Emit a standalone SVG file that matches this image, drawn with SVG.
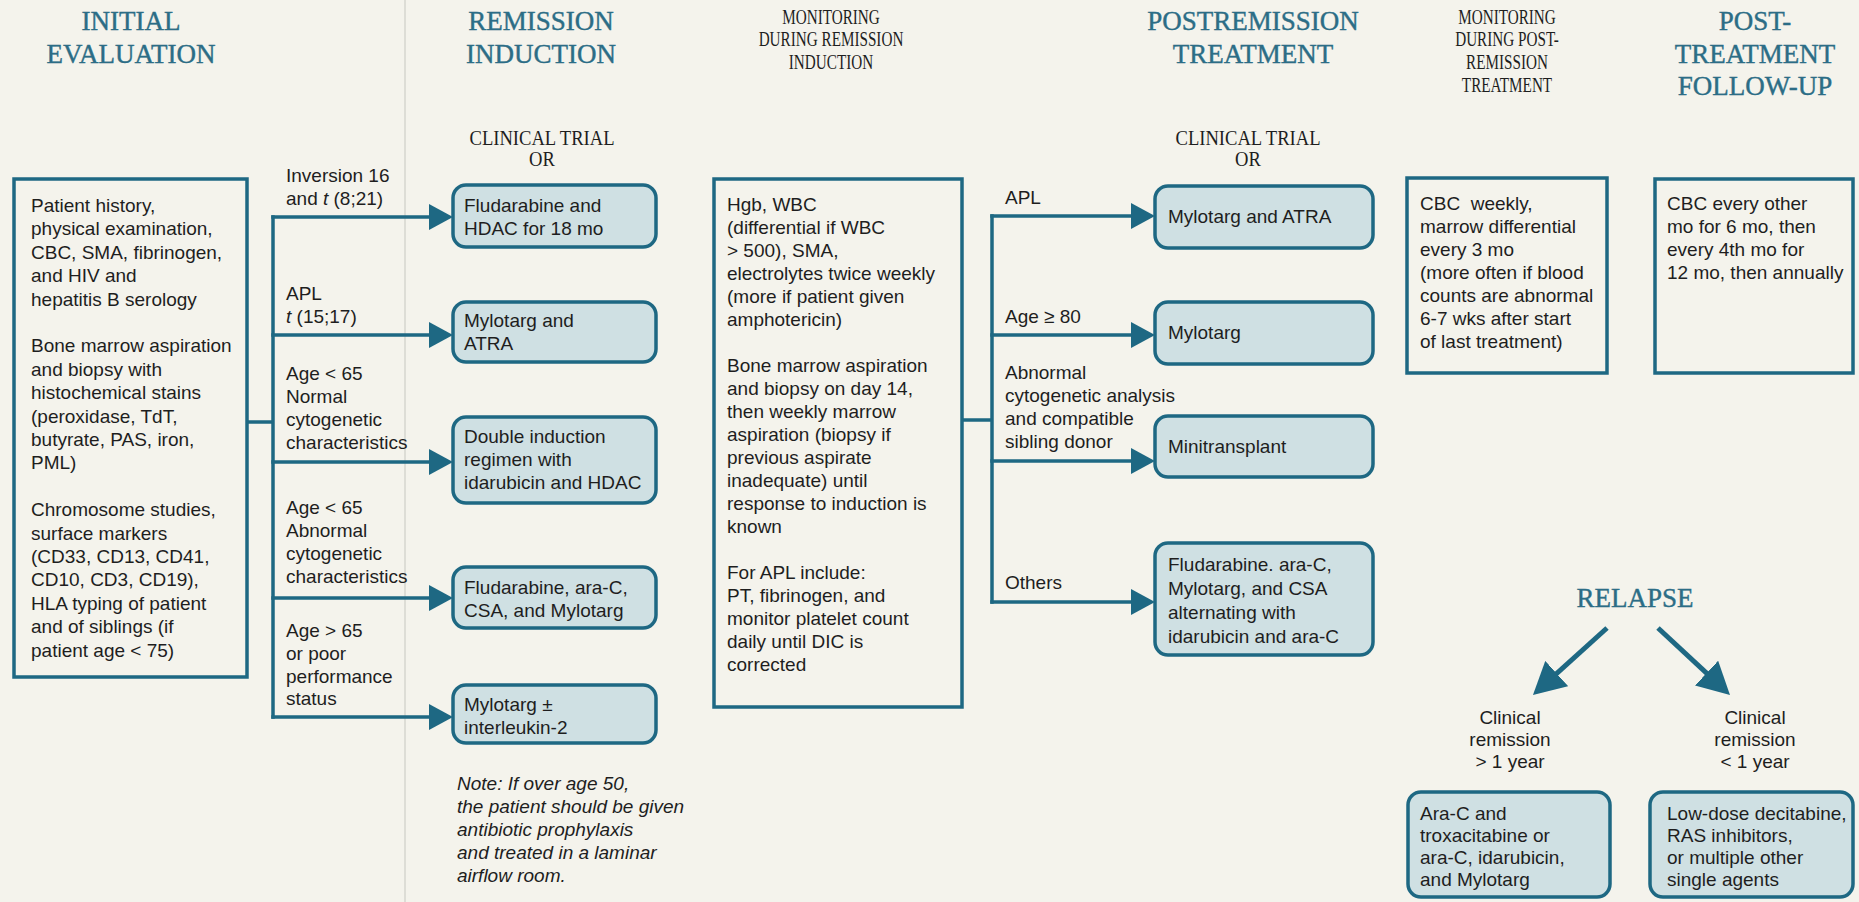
<svg xmlns="http://www.w3.org/2000/svg" width="1859" height="902" viewBox="0 0 1859 902">
<defs>
<style>
.bg{fill:#f4f3ec}
.sq{fill:none;stroke:#1e6883;stroke-width:3.5}
.rb{fill:#cfe0e3;stroke:#1e6883;stroke-width:3.5}
.t{font-family:"Liberation Sans",Arial,sans-serif;font-size:19px;fill:#1e1e1e}
.ti{font-family:"Liberation Sans",Arial,sans-serif;font-size:19px;fill:#1e1e1e;font-style:italic}
.hb{font-family:"Liberation Serif","Times New Roman",serif;font-size:27px;fill:#2c6d86;stroke:#2c6d86;stroke-width:0.4;text-anchor:middle}
.hs{font-family:"Liberation Serif","Times New Roman",serif;font-size:20px;fill:#1e1e1e;text-anchor:middle}
.ct{font-family:"Liberation Serif","Times New Roman",serif;font-size:20px;fill:#1e1e1e;text-anchor:middle}
.c{text-anchor:middle}
.ln{fill:none;stroke:#1e6883;stroke-width:3.5}
.la{fill:none;stroke:#1e6883;stroke-width:3.5;marker-end:url(#ah)}
.lr{fill:none;stroke:#1e6883;stroke-width:5;marker-end:url(#ahr)}
</style>
<marker id="ah" markerUnits="userSpaceOnUse" markerWidth="24" markerHeight="26" refX="12" refY="13" orient="auto">
<path d="M0,0 L24,13 L0,26 z" fill="#1e6883"/>
</marker>
<marker id="ahr" markerUnits="userSpaceOnUse" markerWidth="32" markerHeight="34" refX="14" refY="17" orient="auto">
<path d="M0,0 L32,17 L0,34 z" fill="#1e6883"/>
</marker>
</defs>
<rect class="bg" x="0" y="0" width="1859" height="902"/>
<line x1="405" y1="0" x2="405" y2="902" stroke="#d6d6cf" stroke-width="1.5"/>

<g id="headers">
<text class="hb" x="131" y="30">INITIAL</text>
<text class="hb" x="131" y="63">EVALUATION</text>
<text class="hb" x="541" y="30">REMISSION</text>
<text class="hb" x="541" y="63">INDUCTION</text>
<g transform="translate(831,0) scale(0.76,1)">
<text class="hs" x="0" y="24">MONITORING</text>
<text class="hs" x="0" y="46">DURING REMISSION</text>
<text class="hs" x="0" y="69">INDUCTION</text>
</g>
<text class="hb" x="1253" y="30">POSTREMISSION</text>
<text class="hb" x="1253" y="63">TREATMENT</text>
<g transform="translate(1507,0) scale(0.76,1)">
<text class="hs" x="0" y="24">MONITORING</text>
<text class="hs" x="0" y="46">DURING POST-</text>
<text class="hs" x="0" y="69">REMISSION</text>
<text class="hs" x="0" y="92">TREATMENT</text>
</g>
<text class="hb" x="1755" y="30">POST-</text>
<text class="hb" x="1755" y="63">TREATMENT</text>
<text class="hb" x="1755" y="95">FOLLOW-UP</text>
<g transform="translate(542,0) scale(0.93,1)">
<text class="ct" x="0" y="145">CLINICAL TRIAL</text>
<text class="ct" x="0" y="166">OR</text>
</g>
<g transform="translate(1248,0) scale(0.93,1)">
<text class="ct" x="0" y="145">CLINICAL TRIAL</text>
<text class="ct" x="0" y="166">OR</text>
</g>
</g>

<g id="connectors">
<polyline class="ln" points="247,422 273,422"/>
<line class="ln" x1="273" y1="215.25" x2="273" y2="718.75"/>
<line class="la" x1="271.25" y1="217" x2="441" y2="217"/>
<line class="la" x1="271.25" y1="335" x2="441" y2="335"/>
<line class="la" x1="271.25" y1="462" x2="441" y2="462"/>
<line class="la" x1="271.25" y1="598" x2="441" y2="598"/>
<line class="la" x1="271.25" y1="717" x2="441" y2="717"/>
<polyline class="ln" points="962,420 992,420"/>
<line class="ln" x1="992" y1="214.25" x2="992" y2="603.75"/>
<line class="la" x1="990.25" y1="216" x2="1143" y2="216"/>
<line class="la" x1="990.25" y1="335" x2="1143" y2="335"/>
<line class="la" x1="990.25" y1="461" x2="1143" y2="461"/>
<line class="la" x1="990.25" y1="602" x2="1143" y2="602"/>
<line class="lr" x1="1607" y1="628" x2="1546.3" y2="682.9"/>
<line class="lr" x1="1658" y1="628" x2="1716.8" y2="682.7"/>
</g>

<g id="labels">
<text class="t" x="286" y="182">Inversion 16</text>
<text class="t" x="286" y="205">and <tspan font-style="italic">t</tspan> (8;21)</text>
<text class="t" x="286" y="300">APL</text>
<text class="t" x="286" y="323"><tspan font-style="italic">t</tspan> (15;17)</text>
<text class="t" x="286" y="380">Age &lt; 65</text>
<text class="t" x="286" y="403">Normal</text>
<text class="t" x="286" y="426">cytogenetic</text>
<text class="t" x="286" y="449">characteristics</text>
<text class="t" x="286" y="514">Age &lt; 65</text>
<text class="t" x="286" y="537">Abnormal</text>
<text class="t" x="286" y="560">cytogenetic</text>
<text class="t" x="286" y="583">characteristics</text>
<text class="t" x="286" y="637">Age &gt; 65</text>
<text class="t" x="286" y="660">or poor</text>
<text class="t" x="286" y="683">performance</text>
<text class="t" x="286" y="705">status</text>
<text class="t" x="1005" y="204">APL</text>
<text class="t" x="1005" y="323">Age ≥ 80</text>
<text class="t" x="1005" y="379">Abnormal</text>
<text class="t" x="1005" y="402">cytogenetic analysis</text>
<text class="t" x="1005" y="425">and compatible</text>
<text class="t" x="1005" y="448">sibling donor</text>
<text class="t" x="1005" y="589">Others</text>
<text class="hb" x="1635" y="607">RELAPSE</text>
<text class="t c" x="1510" y="724">Clinical</text>
<text class="t c" x="1510" y="746">remission</text>
<text class="t c" x="1510" y="768">&gt; 1 year</text>
<text class="t c" x="1755" y="724">Clinical</text>
<text class="t c" x="1755" y="746">remission</text>
<text class="t c" x="1755" y="768">&lt; 1 year</text>
</g>

<g id="initial-evaluation">
<rect class="sq" x="14" y="179" width="233" height="498"/>
<text class="t" x="31" y="212">Patient history,</text>
<text class="t" x="31" y="235.4">physical examination,</text>
<text class="t" x="31" y="258.8">CBC, SMA, fibrinogen,</text>
<text class="t" x="31" y="282.2">and HIV and</text>
<text class="t" x="31" y="305.6">hepatitis B serology</text>
<text class="t" x="31" y="352.4">Bone marrow aspiration</text>
<text class="t" x="31" y="375.8">and biopsy with</text>
<text class="t" x="31" y="399.2">histochemical stains</text>
<text class="t" x="31" y="422.6">(peroxidase, TdT,</text>
<text class="t" x="31" y="446">butyrate, PAS, iron,</text>
<text class="t" x="31" y="469.4">PML)</text>
<text class="t" x="31" y="516.2">Chromosome studies,</text>
<text class="t" x="31" y="539.6">surface markers</text>
<text class="t" x="31" y="563">(CD33, CD13, CD41,</text>
<text class="t" x="31" y="586.4">CD10, CD3, CD19),</text>
<text class="t" x="31" y="609.8">HLA typing of patient</text>
<text class="t" x="31" y="633.2">and of siblings (if</text>
<text class="t" x="31" y="656.6">patient age &lt; 75)</text>
</g>

<g id="ri-fludarabine-hdac">
<rect class="rb" x="453" y="185" width="203" height="62" rx="13"/>
<text class="t" x="464" y="212">Fludarabine and</text>
<text class="t" x="464" y="235">HDAC for 18 mo</text>
</g>
<g id="ri-mylotarg-atra">
<rect class="rb" x="453" y="302" width="203" height="60" rx="13"/>
<text class="t" x="464" y="327">Mylotarg and</text>
<text class="t" x="464" y="350">ATRA</text>
</g>
<g id="ri-double-induction">
<rect class="rb" x="453" y="417" width="203" height="86" rx="13"/>
<text class="t" x="464" y="443">Double induction</text>
<text class="t" x="464" y="466">regimen with</text>
<text class="t" x="464" y="489">idarubicin and HDAC</text>
</g>
<g id="ri-fludarabine-arac">
<rect class="rb" x="453" y="567" width="203" height="61" rx="13"/>
<text class="t" x="464" y="594">Fludarabine, ara-C,</text>
<text class="t" x="464" y="617">CSA, and Mylotarg</text>
</g>
<g id="ri-mylotarg-il2">
<rect class="rb" x="453" y="685" width="203" height="58" rx="13"/>
<text class="t" x="464" y="711">Mylotarg ±</text>
<text class="t" x="464" y="734">interleukin-2</text>
</g>
<g id="note">
<text class="ti" x="457" y="790">Note: If over age 50,</text>
<text class="ti" x="457" y="813">the patient should be given</text>
<text class="ti" x="457" y="836">antibiotic prophylaxis</text>
<text class="ti" x="457" y="859">and treated in a laminar</text>
<text class="ti" x="457" y="882">airflow room.</text>
</g>

<g id="monitoring-induction">
<rect class="sq" x="714" y="179" width="248" height="528"/>
<text class="t" x="727" y="211">Hgb, WBC</text>
<text class="t" x="727" y="234">(differential if WBC</text>
<text class="t" x="727" y="257">&gt; 500), SMA,</text>
<text class="t" x="727" y="280">electrolytes twice weekly</text>
<text class="t" x="727" y="303">(more if patient given</text>
<text class="t" x="727" y="326">amphotericin)</text>
<text class="t" x="727" y="372">Bone marrow aspiration</text>
<text class="t" x="727" y="395">and biopsy on day 14,</text>
<text class="t" x="727" y="418">then weekly marrow</text>
<text class="t" x="727" y="441">aspiration (biopsy if</text>
<text class="t" x="727" y="464">previous aspirate</text>
<text class="t" x="727" y="487">inadequate) until</text>
<text class="t" x="727" y="510">response to induction is</text>
<text class="t" x="727" y="533">known</text>
<text class="t" x="727" y="579">For APL include:</text>
<text class="t" x="727" y="602">PT, fibrinogen, and</text>
<text class="t" x="727" y="625">monitor platelet count</text>
<text class="t" x="727" y="648">daily until DIC is</text>
<text class="t" x="727" y="671">corrected</text>
</g>

<g id="pr-mylotarg-atra">
<rect class="rb" x="1155" y="186" width="218" height="62" rx="13"/>
<text class="t" x="1168" y="223">Mylotarg and ATRA</text>
</g>
<g id="pr-mylotarg">
<rect class="rb" x="1155" y="302" width="218" height="62" rx="13"/>
<text class="t" x="1168" y="339">Mylotarg</text>
</g>
<g id="pr-minitransplant">
<rect class="rb" x="1155" y="416" width="218" height="61" rx="13"/>
<text class="t" x="1168" y="453">Minitransplant</text>
</g>
<g id="pr-fludarabine">
<rect class="rb" x="1155" y="543" width="218" height="112" rx="13"/>
<text class="t" x="1168" y="571">Fludarabine. ara-C,</text>
<text class="t" x="1168" y="595">Mylotarg, and CSA</text>
<text class="t" x="1168" y="619">alternating with</text>
<text class="t" x="1168" y="643">idarubicin and ara-C</text>
</g>

<g id="monitoring-postremission">
<rect class="sq" x="1407" y="178" width="200" height="195"/>
<text class="t" x="1420" y="210">CBC&#160; weekly,</text>
<text class="t" x="1420" y="233">marrow differential</text>
<text class="t" x="1420" y="256">every 3 mo</text>
<text class="t" x="1420" y="279">(more often if blood</text>
<text class="t" x="1420" y="302">counts are abnormal</text>
<text class="t" x="1420" y="325">6-7 wks after start</text>
<text class="t" x="1420" y="348">of last treatment)</text>
</g>
<g id="follow-up">
<rect class="sq" x="1655" y="179" width="198" height="194"/>
<text class="t" x="1667" y="210">CBC every other</text>
<text class="t" x="1667" y="233">mo for 6 mo, then</text>
<text class="t" x="1667" y="256">every 4th mo for</text>
<text class="t" x="1667" y="279">12 mo, then annually</text>
</g>

<g id="relapse-long">
<rect class="rb" x="1408" y="792" width="202" height="105" rx="13"/>
<text class="t" x="1420" y="820">Ara-C and</text>
<text class="t" x="1420" y="842">troxacitabine or</text>
<text class="t" x="1420" y="864">ara-C, idarubicin,</text>
<text class="t" x="1420" y="886">and Mylotarg</text>
</g>
<g id="relapse-short">
<rect class="rb" x="1650" y="792" width="203" height="105" rx="13"/>
<text class="t" x="1667" y="820">Low-dose decitabine,</text>
<text class="t" x="1667" y="842">RAS inhibitors,</text>
<text class="t" x="1667" y="864">or multiple other</text>
<text class="t" x="1667" y="886">single agents</text>
</g>
</svg>
